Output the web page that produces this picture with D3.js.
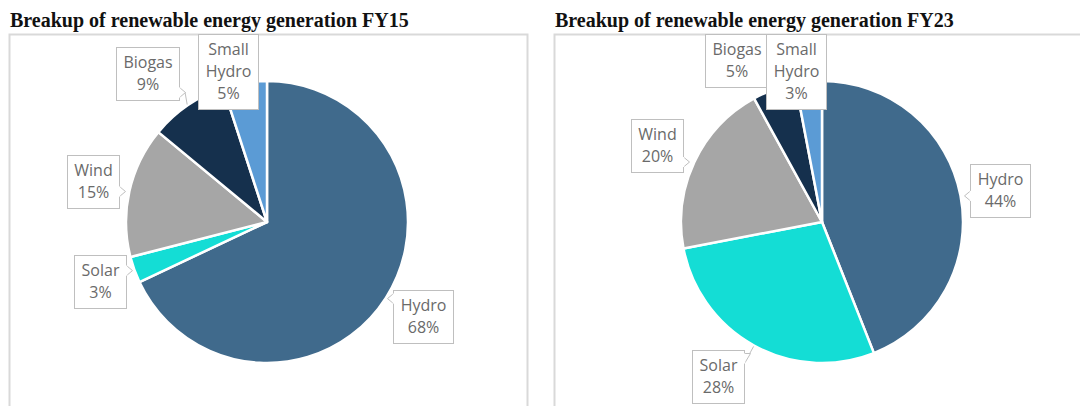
<!DOCTYPE html>
<html>
<head>
<meta charset="utf-8">
<script src="https://cdn.jsdelivr.net/npm/d3@7"></script>
<style>
  body { margin: 0; background: #fff; }
  svg { display: block; }
</style>
</head>
<body>
<div id="chart"></div>
<script>
// Renewable energy generation mix, FY15 vs FY23 (share in %)
const sources = ['Hydro', 'Solar', 'Wind', 'Biogas', 'Small Hydro'];
const labelLines = [['Hydro'], ['Solar'], ['Wind'], ['Biogas'], ['Small', 'Hydro']];
const sharesFY15 = [68, 3, 15, 9, 5];
const sharesFY23 = [44, 28, 20, 5, 3];
const colors = ['#406a8c', '#14ddd5', '#a6a6a6', '#15304d', '#5b9bd5'];

// callout box top-left corners (layout only)
const boxesFY15 = [[393, 290], [74, 255], [67, 155], [116, 47], [198, 34]];
const boxesFY23 = [[970, 164], [692, 350], [631, 119], [705, 34], [766, 34]];

const width = 1080, height = 406;
const svg = d3.select('#chart').append('svg')
  .attr('width', width)
  .attr('height', height);

const panels = [
  { title: 'Breakup of renewable energy generation FY15', values: sharesFY15, boxes: boxesFY15,
    x0: 9, x1: 527, cx: 267, cy: 222 },
  { title: 'Breakup of renewable energy generation FY23', values: sharesFY23, boxes: boxesFY23,
    x0: 554, x1: 1090, cx: 822, cy: 222 }
];

const r = 141;
const pie = d3.pie().sort(null).value(d => d);
const arc = d3.arc().innerRadius(0).outerRadius(r);
const lineH = 22;

panels.forEach(p => {
  // panel frame
  svg.append('rect')
    .attr('x', p.x0 + 0.5).attr('y', 34.5)
    .attr('width', p.x1 - p.x0).attr('height', 400)
    .attr('fill', 'none')
    .attr('stroke', '#d9d9d9')
    .attr('stroke-width', 2);

  svg.append('text')
    .attr('x', p.x0 + 1).attr('y', 27)
    .attr('font-family', '"Liberation Serif", "Times New Roman", serif')
    .attr('font-weight', 'bold')
    .attr('font-size', 20)
    .attr('fill', '#111')
    .text(p.title);

  const g = svg.append('g').attr('transform', `translate(${p.cx},${p.cy})`);
  const arcs = pie(p.values);

  g.selectAll('path')
    .data(arcs)
    .enter()
    .append('path')
    .attr('d', arc)
    .attr('fill', (d, i) => colors[i])
    .attr('stroke', '#fff')
    .attr('stroke-width', 2.5)
    .attr('stroke-linejoin', 'round');

  // callouts
  arcs.forEach((d, i) => {
    const mid = (d.startAngle + d.endAngle) / 2;
    const ax = p.cx + (r + 1) * Math.sin(mid);
    const ay = p.cy - (r + 1) * Math.cos(mid);
    const lines = labelLines[i].concat([p.values[i] + '%']);

    const lg = svg.append('g');
    const txt = lg.append('text')
      .attr('font-family', '"Open Sans", "Noto Sans", sans-serif')
      .attr('font-size', 16)
      .attr('fill', '#6a6a6a')
      .attr('text-anchor', 'middle');
    lines.forEach((t, k) => {
      txt.append('tspan').attr('x', 0).attr('dy', k === 0 ? 0 : lineH).text(t);
    });
    const bb = txt.node().getBBox();
    const w = Math.round(bb.width + 14);
    const h = lines.length * lineH + 9;
    const [bx, by] = p.boxes[i];

    const inside = ax > bx && ax < bx + w && ay > by && ay < by + h;
    const rect = () => lg.insert('rect', 'text')
      .attr('x', bx + 0.5).attr('y', by + 0.5)
      .attr('width', w).attr('height', h)
      .attr('fill', '#fff')
      .attr('stroke', '#bfbfbf');
    if (!inside) {
      // tail on the side of the box that faces the slice
      let base, tip;
      const dxL = bx - ax, dxR = ax - (bx + w), dyT = by - ay, dyB = ay - (by + h);
      const m = Math.max(dxL, dxR, dyT, dyB);
      if (m === dxL || m === dxR) {
        const sx = m === dxL ? bx : bx + w;
        const yy = Math.max(by + 8, Math.min(ay, by + h - 8));
        base = [[sx, yy - 5], [sx, yy + 5]];
        tip = [sx + (m === dxL ? -6 : 6), yy - (ay < yy ? 5 : 0)];
      } else {
        const sy = m === dyT ? by : by + h;
        const xx = Math.max(bx + 8, Math.min(ax, bx + w - 8));
        base = [[xx - 5, sy], [xx + 5, sy]];
        tip = [xx, sy + (m === dyT ? -6 : 6)];
      }
      const dist = Math.hypot(tip[0] - ax, tip[1] - ay);
      if (dist > 5) {
        lg.insert('line', 'text')
          .attr('x1', tip[0]).attr('y1', tip[1])
          .attr('x2', ax).attr('y2', ay)
          .attr('stroke', '#bfbfbf').attr('stroke-width', 1);
      }
      rect();
      lg.insert('path', 'text')
        .attr('d', `M${base[0][0] + 0.5},${base[0][1] + 0.5}L${tip[0] + 0.5},${tip[1] + 0.5}L${base[1][0] + 0.5},${base[1][1] + 0.5}`)
        .attr('fill', '#fff')
        .attr('stroke', '#bfbfbf');
      lg.insert('path', 'text')
        .attr('d', `M${base[0][0] + 0.5},${base[0][1] + 0.5}L${base[1][0] + 0.5},${base[1][1] + 0.5}`)
        .attr('stroke', '#fff')
        .attr('stroke-width', 1.5);
    } else {
      rect();
    }
    txt.attr('transform', `translate(${bx + w / 2 + 0.5},${by + 21})`);
  });
});
</script>
</body>
</html>
